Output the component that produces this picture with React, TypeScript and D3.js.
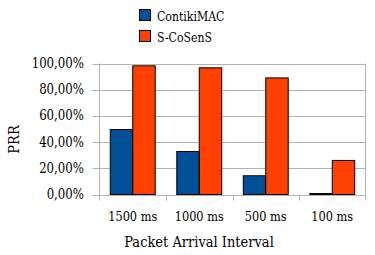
import * as d3 from "d3";
import { useRef, useEffect } from "react";

const categories = ["1500 ms", "1000 ms", "500 ms", "100 ms"];
const contikiMAC = [49.6, 32.8, 14.3, 0.7];
const sCoSenS = [98.2, 96.7, 89.0, 26.0];
const yTicks = [0, 20, 40, 60, 80, 100];
const seriesNames = ["ContikiMAC", "S-CoSenS"];
const colors = ["#004f97", "#ff4000"];

export default function App() {
    const ref = useRef<SVGSVGElement | null>(null);

    useEffect(() => {
        const svg = d3.select(ref.current);
        svg.selectAll("*").remove();

        const width = 375;
        const height = 255;
        svg.attr("width", width).attr("height", height)
            .style("font-family", '"DejaVu Serif", serif')
            .style("fill", "#000");

        // DejaVu Serif is wider than Times, squeeze it a bit
        const squeeze = (sel: any, k = 0.84) => {
            sel.each(function (this: SVGTextElement) {
                const w = this.getComputedTextLength();
                this.setAttribute("textLength", String(w * k));
                this.setAttribute("lengthAdjust", "spacingAndGlyphs");
            });
        };

        const left = 99.5, right = 365.5, top = 63.5, bottom = 194.5;

        const x = d3.scaleBand().domain(categories).range([left, right]);
        const inner = d3.scaleBand()
            .domain(seriesNames)
            .range([0, x.bandwidth()])
            .paddingOuter(0.48);
        const y = d3.scaleLinear().domain([0, 100]).range([bottom, top]);

        // grid
        svg.append("g")
            .selectAll("line")
            .data(yTicks)
            .enter()
            .append("line")
            .attr("x1", left - 7)
            .attr("x2", right)
            .attr("y1", (d) => Math.round(y(d)) + 0.5)
            .attr("y2", (d) => Math.round(y(d)) + 0.5)
            .attr("stroke", "#b3b3b3");

        svg.append("line")
            .attr("x1", left).attr("x2", left)
            .attr("y1", top).attr("y2", bottom + 6)
            .attr("stroke", "#b3b3b3");
        svg.append("line")
            .attr("x1", right).attr("x2", right)
            .attr("y1", top).attr("y2", bottom + 6)
            .attr("stroke", "#b3b3b3");
        svg.append("g")
            .selectAll("line")
            .data(categories.slice(1))
            .enter()
            .append("line")
            .attr("x1", (d) => Math.round(x(d)!) + 0.5)
            .attr("x2", (d) => Math.round(x(d)!) + 0.5)
            .attr("y1", bottom)
            .attr("y2", bottom + 6)
            .attr("stroke", "#b3b3b3");

        // y labels
        const yl = svg.append("g")
            .selectAll("text")
            .data(yTicks)
            .enter()
            .append("text")
            .attr("x", 84)
            .attr("y", (d) => y(d) + 4.5)
            .attr("text-anchor", "end")
            .style("font-size", "14px")
            .text((d) => d.toFixed(2).replace(".", ",") + "%");
        squeeze(yl);

        // bars
        const series = [contikiMAC, sCoSenS];
        series.forEach((vals, si) => {
            svg.append("g")
                .selectAll("rect")
                .data(vals)
                .enter()
                .append("rect")
                .attr("x", (_, i) => x(categories[i])! + inner(seriesNames[si])!)
                .attr("y", (d) => y(d))
                .attr("width", inner.bandwidth())
                .attr("height", (d) => bottom - y(d))
                .attr("fill", colors[si])
                .attr("stroke", "#000")
                .attr("stroke-width", 1);
        });

        // x labels
        const xl = svg.append("g")
            .selectAll("text")
            .data(categories)
            .enter()
            .append("text")
            .attr("x", (d) => x(d)! + x.bandwidth() / 2)
            .attr("y", 221)
            .attr("text-anchor", "middle")
            .style("font-size", "13.5px")
            .text((d) => d);
        squeeze(xl);

        const title = svg.append("text")
            .attr("x", 199)
            .attr("y", 247)
            .attr("text-anchor", "middle")
            .style("font-size", "15.5px")
            .text("Packet Arrival Interval");
        squeeze(title);

        const prr = svg.append("text")
            .attr("transform", `translate(19,139.5) rotate(-90)`)
            .attr("text-anchor", "middle")
            .style("font-size", "15.5px")
            .text("PRR");
        squeeze(prr);

        // legend
        const legend = svg.append("g")
            .selectAll("g")
            .data(seriesNames)
            .enter()
            .append("g")
            .attr("transform", (_, i) => `translate(139.5,${9.5 + i * 21})`);
        legend.append("rect")
            .attr("width", 11)
            .attr("height", 11)
            .attr("fill", (_, i) => colors[i])
            .attr("stroke", "#000");
        const lt = legend.append("text")
            .attr("x", 17.5)
            .attr("y", 11)
            .style("font-size", "13px")
            .text((d) => d);
        squeeze(lt);
    }, []);

    return <svg ref={ref} style={{ position: "absolute", left: 0, top: 0 }}></svg>;
}
